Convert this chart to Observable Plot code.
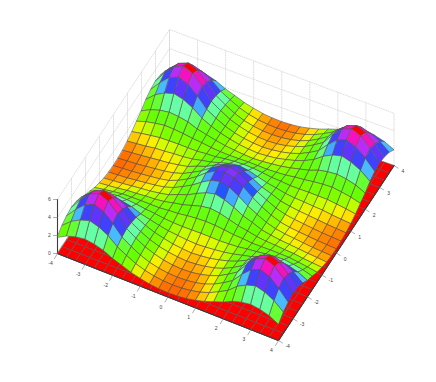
<!DOCTYPE html>
<html><head><meta charset="utf-8">
<style>html,body{margin:0;padding:0;background:#fff}svg{display:block}</style>
<script src="https://cdn.jsdelivr.net/npm/d3@7"></script>
<script src="https://cdn.jsdelivr.net/npm/@observablehq/plot@0.6"></script>
</head><body><div id="chart"></div>
<script>
// Surface height: one quadrant (x,y from -4 to 0 in steps of 1/3);
// the picture is mirror-symmetric about x=0 and y=0.
const zQuadrant = [
[1.80,2.35,2.65,2.80,2.65,2.35,1.85,1.50,1.12,.85,.63,.52,.48],
[2.35,3.20,3.75,4.05,3.75,3.20,2.35,1.80,1.30,.95,.72,.59,.54],
[2.65,3.75,4.65,5.05,4.65,3.75,2.65,2.00,1.45,1.05,.80,.65,.61],
[2.80,4.05,5.05,5.50,5.05,4.05,2.80,2.15,1.58,1.20,.92,.76,.70],
[2.65,3.75,4.65,5.05,4.65,3.78,2.70,2.10,1.60,1.25,1.02,.88,.80],
[2.35,3.20,3.75,4.05,3.78,3.25,2.50,2.00,1.62,1.35,1.12,1.00,.92],
[1.85,2.35,2.65,2.80,2.70,2.50,2.10,1.85,1.60,1.40,1.28,1.18,1.12],
[1.50,1.80,2.00,2.15,2.10,2.00,1.85,1.75,1.60,1.52,1.48,1.50,1.52],
[1.12,1.30,1.45,1.58,1.60,1.62,1.60,1.60,1.70,1.75,1.90,2.00,2.05],
[.85,.95,1.05,1.20,1.25,1.35,1.40,1.52,1.75,1.95,2.25,2.55,2.70],
[.63,.72,.80,.92,1.02,1.12,1.28,1.48,1.90,2.25,2.80,3.25,3.50],
[.52,.59,.65,.76,.88,1.00,1.18,1.50,2.00,2.55,3.25,3.85,4.10],
[.48,.54,.61,.70,.80,.92,1.12,1.52,2.05,2.70,3.50,4.10,4.35]
];
const xTicks = [-4,-3,-2,-1,0,1,2,3,4];
const yTicks = [-4,-3,-2,-1,0,1,2,3,4];
const zTicks = [0,2,4,6];
const gridN = 24;
const colorStops = [0,.3,.55,.8,1.0,1.25,1.5,1.75,2.3,2.6,2.85,3.1,3.5,3.95,4.4,4.9,5.2,5.5];
const colorRange = ["#ff0000","#ff4400","#ff7700","#ffbb00","#ffee00","#ccff00","#88ff00","#66ff00","#66ff22","#66ff99","#66ffaa","#55ddff","#2255ff","#5533ff","#8833ff","#ee22ee","#ff0090","#ff0000"];

// Camera: where the four floor corners land, and pixels per z unit there
const camera = {
  A:[57,253,9], B:[278,340,9], C:[393.5,165,8.7], D:[169,86,9.5]
};
function project(x,y,z=0){
  const u=(x+4)/8, v=(y+4)/8, {A,B,C,D}=camera;
  const w=[(1-u)*(1-v),u*(1-v),u*v,(1-u)*v], c=[A,B,C,D];
  const m=k=>d3.sum(c,(p,i)=>p[k]*w[i]);
  return [m(0), m(1)-m(2)*z];
}
const coord = i => -4 + i*8/gridN;
const fold = i => i<=gridN/2 ? i : gridN-i;
const height = (i,j) => zQuadrant[fold(i)][fold(j)];

function cells(heightAt){
  const order=[];
  for(let i=0;i<gridN;i++)for(let j=0;j<gridN;j++)order.push([i,j]);
  order.sort((a,b)=>(87*a[0]-170*a[1])-(87*b[0]-170*b[1]));
  const rows=[];
  order.forEach(([i,j],id)=>{
    const c=heightAt(i,j);
    [[i,j],[i+1,j],[i+1,j+1],[i,j+1]].forEach(([a,b])=>{
      const [px,py]=project(coord(a),coord(b),heightAt(a,b));
      rows.push({id,px,py,c});
    });
  });
  return rows;
}
const floorCells = cells(()=>0);
const surfaceCells = cells(height);

function seg(list){
  const rows=[];
  list.forEach((pts,id)=>pts.forEach(p=>{const [px,py]=project(...p);rows.push({id,px,py});}));
  return rows;
}
const walls=[];
for(const t of xTicks) walls.push([[t,4,0],[t,4,6]]);
for(const t of yTicks) walls.push([[-4,t,0],[-4,t,6]]);
for(const h of zTicks){ walls.push([[-4,-4,h],[-4,4,h],[4,4,h]]); }
const solid=[[[-4,-4,0],[4,-4,0],[4,4,0]],[[-4,-4,0],[-4,-4,6]]];

const tickRows=[];
xTicks.forEach((t,i)=>{const [a,b]=project(t,-4,0);tickRows.push({id:"x"+i,px:a,py:b},{id:"x"+i,px:a-3,py:b+5});});
yTicks.forEach((t,i)=>{const [a,b]=project(4,t,0);tickRows.push({id:"y"+i,px:a,py:b},{id:"y"+i,px:a+4,py:b+2.5});});
zTicks.forEach((t,i)=>{const [a,b]=project(-4,-4,t);tickRows.push({id:"z"+i,px:a,py:b},{id:"z"+i,px:a-4,py:b});});
const label=(t,p,dx,dy)=>({t:String(t),px:p[0]+dx,py:p[1]+dy});
const labels=[
  ...xTicks.map(t=>label(t,project(t,-4,0),-7,10)),
  ...yTicks.map(t=>label(t,project(4,t,0),9,6)),
  ...zTicks.map(t=>label(t,project(-4,-4,t),-8,0))
];

const polyOpts={x:"px",y:"py",z:"id",fill:"c",stroke:"#565656",strokeWidth:0.6,curve:"linear-closed"};
const chart=Plot.plot({
  width:436,height:382,margin:0,
  x:{domain:[0,436],range:[0,436],axis:null},
  y:{domain:[0,382],range:[0,382],axis:null},
  color:{type:"linear",domain:colorStops,range:colorRange},
  style:{background:"#fff",fontFamily:"'Liberation Sans',sans-serif"},
  marks:[
    Plot.line(seg(walls),{x:"px",y:"py",z:"id",stroke:"#d0d0d0",strokeWidth:0.7,strokeDasharray:"1,1.4"}),
    Plot.line(seg(solid),{x:"px",y:"py",z:"id",stroke:"#3c3c3c",strokeWidth:1.1}),
    Plot.line(floorCells,polyOpts),
    Plot.line(surfaceCells,polyOpts),
    Plot.line(seg([[[-4,-4,0],[4,-4,0],[4,4,0]]]),{x:"px",y:"py",z:"id",stroke:"#3c3c3c",strokeWidth:1.1}),
    Plot.line(tickRows,{x:"px",y:"py",z:"id",stroke:"#777",strokeWidth:0.6}),
    Plot.text(labels,{x:"px",y:"py",text:"t",fontSize:5,fill:"#444"})
  ]
});
document.getElementById("chart").append(chart);
</script></body></html>
